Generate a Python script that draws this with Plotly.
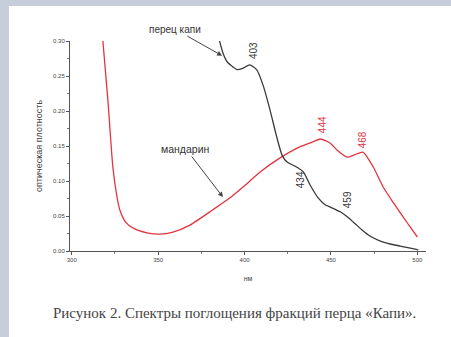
import plotly.graph_objects as go

# --- data ---
pepper_nm = [385, 387.5, 390, 393.3, 395.7, 399, 403, 407, 410.7, 414.8, 418.3, 421.7,
             424.6, 429.3, 434, 438, 442.6, 446.7, 451.3, 455.4, 459.4, 464, 468,
             472.8, 478.6, 484.3, 490, 496, 500.6]
pepper_abs = [0.305, 0.283, 0.270, 0.263, 0.259, 0.261, 0.266, 0.259, 0.237, 0.201, 0.166, 0.137,
              0.127, 0.121, 0.113, 0.094, 0.076, 0.066, 0.061, 0.056, 0.049, 0.039, 0.030,
              0.021, 0.014, 0.010, 0.007, 0.004, 0.0015]

mandarin_nm = [318, 320.9, 323.8, 326, 327.8, 331.3, 335.4, 343.5, 351, 358.6, 368.4, 381.7,
               391.6, 400.3, 409, 420.6, 432.2, 439.7, 444, 449.6, 453.6, 459.4, 465.2,
               468.7, 474.5, 480.3, 486.1, 494.2, 500]
mandarin_abs = [0.301, 0.216, 0.120, 0.080, 0.059, 0.041, 0.033, 0.026, 0.024, 0.027, 0.037, 0.059,
                0.076, 0.094, 0.113, 0.133, 0.149, 0.156, 0.160, 0.154, 0.144, 0.134, 0.139,
                0.141, 0.120, 0.091, 0.069, 0.040, 0.020]

x_ticks = [300, 350, 400, 450, 500]
y_ticks = [0.00, 0.05, 0.10, 0.15, 0.20, 0.25, 0.30]
y_tick_labels = ["0.00", "0.05", "0.10", "0.15", "0.20", "0.25", "0.30"]

peak_labels_black = [("403", 404.9, 0.2857), ("434", 432.2, 0.1014), ("459", 460.0, 0.0729)]
peak_labels_red = [("444", 444.9, 0.180), ("468", 468.7, 0.1586)]

caption = "Рисунок 2. Спектры поглощения фракций перца «Капи»."

BLACK = "#3a3a3a"
RED = "#e3343f"
STRIP = "#c6cedc"

fig = go.Figure()
fig.add_trace(go.Scatter(x=mandarin_nm, y=mandarin_abs, mode="lines",
                         line=dict(color=RED, width=1.3, shape="spline", smoothing=0.6),
                         name="мандарин", showlegend=False, hoverinfo="skip"))
fig.add_trace(go.Scatter(x=pepper_nm, y=pepper_abs, mode="lines",
                         line=dict(color=BLACK, width=1.3, shape="spline", smoothing=0.6),
                         name="перец капи", showlegend=False, hoverinfo="skip"))

L, T, PW, PH = 70, 41, 356, 210
W, H = 451, 337


def px(xp):
    return (xp - L) / PW


def py(yp):
    return (T + PH - yp) / PH


shapes = [
    dict(type="rect", xref="paper", yref="paper", x0=px(0), x1=px(9), y0=py(H), y1=py(0),
         fillcolor=STRIP, line=dict(width=0), layer="below"),
    dict(type="rect", xref="paper", yref="paper", x0=px(0), x1=px(W), y0=py(6), y1=py(0),
         fillcolor=STRIP, line=dict(width=0), layer="below"),
]

annotations = []
for txt, xv, yv in peak_labels_black:
    annotations.append(dict(x=xv, y=yv, xref="x", yref="y", text=txt, showarrow=False,
                            textangle=-90, font=dict(size=10, color=BLACK, family="Arial")))
for txt, xv, yv in peak_labels_red:
    annotations.append(dict(x=xv, y=yv, xref="x", yref="y", text=txt, showarrow=False,
                            textangle=-90, font=dict(size=10, color=RED, family="Arial")))

annotations.append(dict(x=387, y=0.279, xref="x", yref="y", ax=359.7, ay=0.317,
                        axref="x", ayref="y", text="перец капи", showarrow=True,
                        arrowhead=2, arrowsize=1, arrowwidth=1, arrowcolor="#444",
                        font=dict(size=10, color="#333", family="Arial")))
annotations.append(dict(x=387.5, y=0.077, xref="x", yref="y", ax=366.1, ay=0.1457,
                        axref="x", ayref="y", text="мандарин", showarrow=True,
                        arrowhead=2, arrowsize=1, arrowwidth=1, arrowcolor="#444",
                        font=dict(size=10.5, color="#333", family="Arial")))
annotations.append(dict(x=px(234), y=py(313), xref="paper", yref="paper", text=caption,
                        xanchor="center", yanchor="middle",
                        showarrow=False, font=dict(size=15, color="#444",
                                                   family="Liberation Serif")))

fig.update_layout(
    width=W, height=H,
    margin=dict(l=L, r=W - L - PW, t=T, b=H - T - PH),
    paper_bgcolor="white", plot_bgcolor="white",
    shapes=shapes, annotations=annotations,
    xaxis=dict(range=[299, 505], tickvals=x_ticks, ticktext=[str(v) for v in x_ticks],
               showgrid=False, zeroline=False, showline=True, linecolor="#555", linewidth=1,
               ticks="outside", ticklen=3, tickcolor="#555",
               minor=dict(dtick=25, ticks="outside", ticklen=2, tickcolor="#777"),
               tickfont=dict(size=6, color="#444", family="Arial"),
               title=dict(text="нм", font=dict(size=7, color="#444", family="Arial"), standoff=13)),
    yaxis=dict(range=[0, 0.30], tickvals=y_ticks, ticktext=y_tick_labels,
               showgrid=False, zeroline=False, showline=True, linecolor="#555", linewidth=1,
               ticks="outside", ticklen=3, tickcolor="#555",
               minor=dict(dtick=0.025, ticks="outside", ticklen=2, tickcolor="#777"),
               tickfont=dict(size=6, color="#444", family="Arial"),
               title=dict(text="оптическая плотность",
                          font=dict(size=9, color="#444", family="Arial"), standoff=8)),
)

fig.write_html("out.html", config={"displayModeBar": False},
               post_script="document.body.style.margin='0';")
